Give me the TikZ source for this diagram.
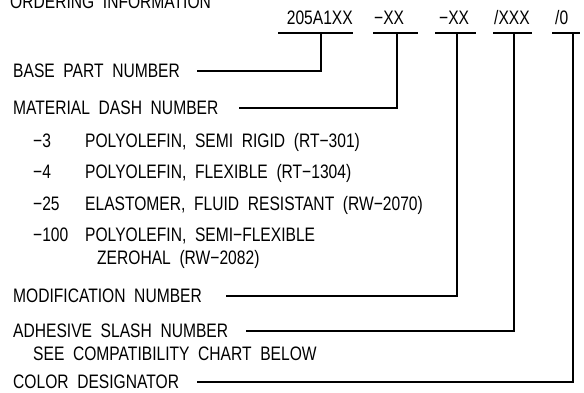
\documentclass[tikz,border=0pt]{standalone}
\usepackage{fontspec}
\setmainfont{Liberation Sans}[FakeStretch=0.8,WordSpace=2.0]
\begin{document}
\begin{tikzpicture}[x=1pt,y=-1pt,
  lbl/.style={anchor=base west, inner sep=0pt, font=\fontsize{19.5}{23}\selectfont},
  lead/.style={draw=black, line width=1.3pt}]
\useasboundingbox (0,0) rectangle (584,392);
% title
\node[lbl] (title) at (10,8) {ORDERING INFORMATION};
% part number code
\node[lbl, anchor=base east] (k1) at (353,24) {205A1XX};
\node[lbl] (k2) at (374,24) {−XX};
\node[lbl] (k3) at (439,24) {−XX};
\node[lbl] (k4) at (494,24) {/XXX};
\node[lbl] (k5) at (555,24) {/0};
\coordinate (u1a) at (278,33); \coordinate (u1b) at (353,33);
\coordinate (u2a) at (373,33); \coordinate (u2b) at (418,33);
\coordinate (u3a) at (435,33); \coordinate (u3b) at (476,33);
\coordinate (u4a) at (493,33); \coordinate (u4b) at (532,33);
\coordinate (u5a) at (552,33); \coordinate (u5b) at (580,33);
\draw[lead] (u1a) -- (u1b);
\draw[lead] (u2a) -- (u2b);
\draw[lead] (u3a) -- (u3b);
\draw[lead] (u4a) -- (u4b);
\draw[lead] (u5a) -- (u5b);
% labels
\node[lbl] (base) at (13,77) {BASE PART NUMBER};
\node[lbl] (mat) at (13,114) {MATERIAL DASH NUMBER};
\node[lbl] (m1) at (33,147) {−3};
\node[lbl] (m1t) at (85,147) {POLYOLEFIN, SEMI RIGID (RT−301)};
\node[lbl] (m2) at (33,178) {−4};
\node[lbl] (m2t) at (85,178) {POLYOLEFIN, FLEXIBLE (RT−1304)};
\node[lbl] (m3) at (33,210) {−25};
\node[lbl] (m3t) at (85,210) {ELASTOMER, FLUID RESISTANT (RW−2070)};
\node[lbl] (m4) at (33,241) {−100};
\node[lbl] (m4t) at (85,241) {POLYOLEFIN, SEMI−FLEXIBLE};
\node[lbl] (m4u) at (97,264) {ZEROHAL (RW−2082)};
\node[lbl] (mod) at (13,302) {MODIFICATION NUMBER};
\node[lbl] (adh) at (13,337) {ADHESIVE SLASH NUMBER};
\node[lbl] (see) at (33,360) {SEE COMPATIBILITY CHART BELOW};
\node[lbl] (col) at (13,388) {COLOR DESIGNATOR};
% leaders
\coordinate (l1) at (197,71); \coordinate (c1) at (321,71); \coordinate (t1) at (321,33);
\coordinate (l2) at (239,108); \coordinate (c2) at (397,108); \coordinate (t2) at (397,33);
\coordinate (l3) at (226,296); \coordinate (c3) at (457,296); \coordinate (t3) at (457,33);
\coordinate (l4) at (246,331); \coordinate (c4) at (514,331); \coordinate (t4) at (514,33);
\coordinate (l5) at (197,382); \coordinate (c5) at (573,382); \coordinate (t5) at (573,33);
\draw[lead] (l1) -- (c1) -- (t1);
\draw[lead] (l2) -- (c2) -- (t2);
\draw[lead] (l3) -- (c3) -- (t3);
\draw[lead] (l4) -- (c4) -- (t4);
\draw[lead] (l5) -- (c5) -- (t5);
\end{tikzpicture}
\end{document}
